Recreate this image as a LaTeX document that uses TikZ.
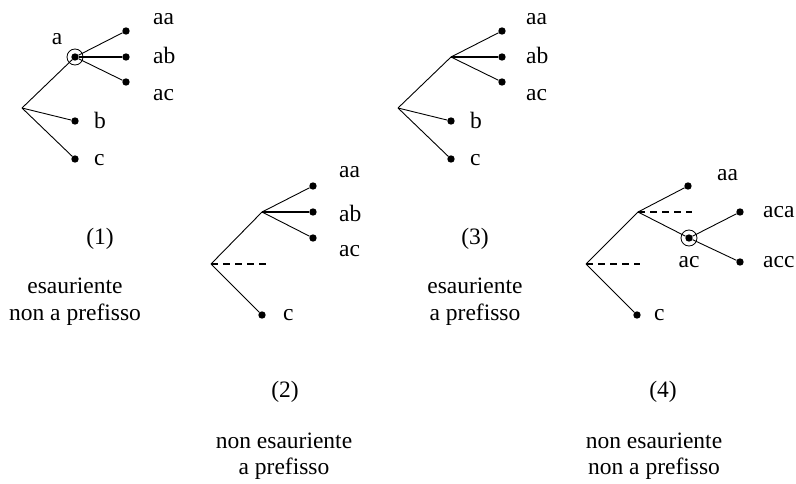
\documentclass[tikz,border=0pt]{standalone}
\usepackage{fontspec}
\setmainfont{Liberation Serif}
\begin{document}
\begin{tikzpicture}[x=1pt,y=-1pt,
  edge/.style={line width=0.9pt},
  thickedge/.style={line width=1.9pt},
  dashedge/.style={line width=1.3pt, dash pattern=on 7pt off 5pt},
  leaf/.style={circle,fill,inner sep=0pt,minimum size=7.4pt},
  ring/.style={circle,draw,line width=0.8pt,inner sep=0pt,minimum size=16pt},
  lbl/.style={inner sep=0pt,font=\fontsize{23.5}{27}\selectfont},
]
\useasboundingbox (0,0) rectangle (796,484);

% ---------- Tree (1) ----------
\begin{scope}
  \coordinate (r1) at (22,108);
  \node[leaf] (a1) at (75,57) {};
  \node[ring] (ra1) at (75,57) {};
  \node[leaf] (aa1) at (126,31) {};
  \node[leaf] (ab1) at (126,57) {};
  \node[leaf] (ac1) at (126,82) {};
  \node[leaf] (b1) at (75,121) {};
  \node[leaf] (c1) at (75,159) {};
  \draw[edge] (r1) -- (a1);
  \draw[edge] (a1) -- (aa1);
  \draw[thickedge] (a1) -- (ab1);
  \draw[edge] (a1) -- (ac1);
  \draw[edge] (r1) -- (b1);
  \draw[edge] (r1) -- (c1);
  \node[lbl,anchor=base] (la1) at (57,45) {a};
  \node[lbl,anchor=base west] (laa1) at (153,25) {aa};
  \node[lbl,anchor=base west] (lab1) at (153,64) {ab};
  \node[lbl,anchor=base west] (lac1) at (153,101) {ac};
  \node[lbl,anchor=base west] (lb1) at (94,129) {b};
  \node[lbl,anchor=base west] (lc1) at (94,166) {c};
  \node[lbl,anchor=base] (n1) at (100,244) {(1)};
  \node[lbl,anchor=base] (d1a) at (75,293) {esauriente};
  \node[lbl,anchor=base] (d1b) at (75,320) {non a prefisso};
\end{scope}

% ---------- Tree (3) ----------
\begin{scope}[shift={(376,0)}]
  \coordinate (r3) at (22,108);
  \coordinate (a3) at (75,57);
  \node[leaf] (aa3) at (126,31) {};
  \node[leaf] (ab3) at (126,57) {};
  \node[leaf] (ac3) at (126,82) {};
  \node[leaf] (b3) at (75,121) {};
  \node[leaf] (c3) at (75,159) {};
  \draw[edge] (r3) -- (a3);
  \draw[edge] (a3) -- (aa3);
  \draw[thickedge] (a3) -- (ab3);
  \draw[edge] (a3) -- (ac3);
  \draw[edge] (r3) -- (b3);
  \draw[edge] (r3) -- (c3);
  \node[lbl,anchor=base west] (laa3) at (150,25) {aa};
  \node[lbl,anchor=base west] (lab3) at (150,64) {ab};
  \node[lbl,anchor=base west] (lac3) at (150,101) {ac};
  \node[lbl,anchor=base west] (lb3) at (94,129) {b};
  \node[lbl,anchor=base west] (lc3) at (94,166) {c};
  \node[lbl,anchor=base] (n3) at (99,244) {(3)};
  \node[lbl,anchor=base] (d3a) at (99,293) {esauriente};
  \node[lbl,anchor=base] (d3b) at (99,320) {a prefisso};
\end{scope}

% ---------- Tree (2) ----------
\begin{scope}[shift={(189,156)}]
  \coordinate (r2) at (22,108);
  \coordinate (a2) at (73,56);
  \coordinate (e2) at (77,108);
  \node[leaf] (aa2) at (124,30) {};
  \node[leaf] (ab2) at (124,56) {};
  \node[leaf] (ac2) at (124,82) {};
  \node[leaf] (c2) at (73,159) {};
  \draw[edge] (r2) -- (a2);
  \draw[edge] (a2) -- (aa2);
  \draw[thickedge] (a2) -- (ab2);
  \draw[edge] (a2) -- (ac2);
  \draw[dashedge] (r2) -- (e2);
  \draw[edge] (r2) -- (c2);
  \node[lbl,anchor=base west] (laa2) at (150,22) {aa};
  \node[lbl,anchor=base west] (lab2) at (150,66) {ab};
  \node[lbl,anchor=base west] (lac2) at (150,100) {ac};
  \node[lbl,anchor=base west] (lc2) at (94,164) {c};
  \node[lbl,anchor=base] (n2) at (96,241) {(2)};
  \node[lbl,anchor=base] (d2a) at (95,292) {non esauriente};
  \node[lbl,anchor=base] (d2b) at (95,318) {a prefisso};
\end{scope}

% ---------- Tree (4) ----------
\begin{scope}[shift={(564,156)}]
  \coordinate (r4) at (22,108);
  \coordinate (a4) at (74,56);
  \coordinate (e4r) at (76,108);
  \coordinate (e4a) at (128,56);
  \node[leaf] (aa4) at (124,30) {};
  \node[leaf] (ac4) at (125,82) {};
  \node[ring] (rac4) at (125,82) {};
  \node[leaf] (aca4) at (176,56) {};
  \node[leaf] (acc4) at (176,106) {};
  \node[leaf] (c4) at (73,159) {};
  \draw[edge] (r4) -- (a4);
  \draw[edge] (a4) -- (aa4);
  \draw[edge] (a4) -- (ac4);
  \draw[dashedge] (a4) -- (e4a);
  \draw[edge] (ac4) -- (aca4);
  \draw[edge] (ac4) -- (acc4);
  \draw[dashedge] (r4) -- (e4r);
  \draw[edge] (r4) -- (c4);
  \node[lbl,anchor=base west] (laa4) at (153,25) {aa};
  \node[lbl,anchor=base west] (laca4) at (199,62) {aca};
  \node[lbl,anchor=base] (lac4) at (125,112) {ac};
  \node[lbl,anchor=base west] (lacc4) at (199,112) {acc};
  \node[lbl,anchor=base west] (lc4) at (90,164) {c};
  \node[lbl,anchor=base] (n4) at (99,241) {(4)};
  \node[lbl,anchor=base] (d4a) at (90,292) {non esauriente};
  \node[lbl,anchor=base] (d4b) at (90,318) {non a prefisso};
\end{scope}
\end{tikzpicture}
\end{document}
